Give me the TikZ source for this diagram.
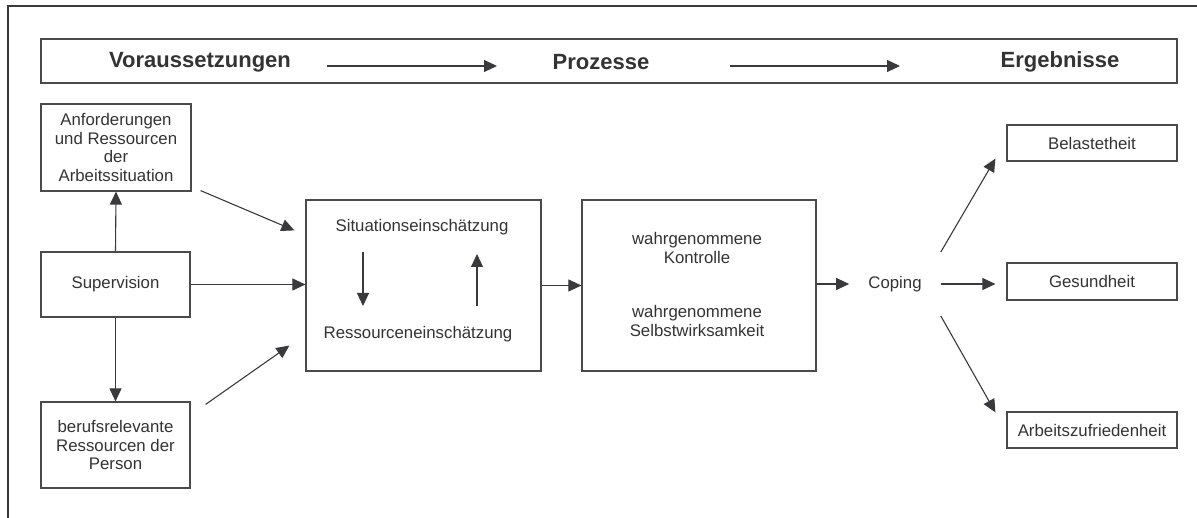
\documentclass[tikz,border=0pt]{standalone}
\usepackage{fontspec}
\setmainfont{Liberation Sans}
\usetikzlibrary{arrows.meta,calc}
\definecolor{linec}{HTML}{3A3A3C}
\definecolor{boxc}{HTML}{4A4A4A}
\definecolor{textc}{HTML}{333333}
\begin{document}
\begin{tikzpicture}[x=1pt,y=-1pt,
  every node/.style={text=textc,font=\fontsize{16.8}{18.8}\selectfont},
  boxnode/.style={draw=boxc,line width=1.2pt,inner sep=0pt,align=center},
  plain/.style={inner sep=0pt,align=center},
  headtext/.style={inner sep=0pt,font=\fontsize{22}{24}\selectfont\bfseries},
  arr/.style={draw=linec,line width=1.1pt,-{Triangle[length=13pt,width=12pt]}}
]
\useasboundingbox (0,0) rectangle (1197,518);
% outer frame
\draw[linec,line width=2.2pt] (1197,6) -- (8,6) -- (8,518);

% header
\node[boxnode,minimum width=1136pt,minimum height=44pt] (head) at (609,61) {};
\node[headtext] (h1) at (200,62) {Voraussetzungen};
\node[headtext] (h2) at (601,62) {Prozesse};
\node[headtext] (h3) at (1060,62) {Ergebnisse};
\coordinate (ha1) at (327,66);
\coordinate (ha2) at (497,66);
\coordinate (hb1) at (730,66);
\coordinate (hb2) at (900,66);
\draw[arr] (ha1) -- (ha2);
\draw[arr] (hb1) -- (hb2);

% left column
\node[boxnode,minimum width=150pt,minimum height=87pt] (A) at (116,147.5)
  {Anforderungen\\und Ressourcen\\der\\Arbeitssituation};
\node[boxnode,minimum width=149pt,minimum height=65pt] (S) at (115.5,284.5) {Supervision};
\node[boxnode,minimum width=149pt,minimum height=86pt] (P) at (115.5,445)
  {berufsrelevante\\Ressourcen der\\Person};

% process boxes
\node[boxnode,minimum width=235pt,minimum height=171pt] (Sit) at (423.5,285.5) {};
\node[plain] (sit1) at (422,227) {Situationseinschätzung};
\node[plain] (sit2) at (418,334) {Ressourceneinschätzung};
\node[boxnode,minimum width=234pt,minimum height=171pt] (K) at (699,285.5) {};
\node[plain] (k1) at (697,248) {wahrgenommene\\Kontrolle};
\node[plain] (k2) at (697,321) {wahrgenommene\\Selbstwirksamkeit};

% coping
\node[inner xsep=19pt,inner ysep=2pt] (C) at (895,284) {Coping};

% outcomes
\node[boxnode,minimum width=170pt,minimum height=36pt] (B) at (1092,143) {Belastetheit};
\node[boxnode,minimum width=170pt,minimum height=37pt] (G) at (1092,281.5) {Gesundheit};
\node[boxnode,minimum width=170pt,minimum height=36pt] (Z) at (1092,430) {Arbeitszufriedenheit};

% connectors left
\draw[arr] (S.north) -- (A.south);
\draw[arr] (S.south) -- (P.north);
\draw[arr] ($(A.south east)+(9,-1)$) -- ($(Sit.north west)+(-11,31)$);
\draw[arr] (S.east) -- (S.east -| Sit.west);
\draw[arr] ($(P.north east)+(15,3)$) -- ($(Sit.south west)+(-16,-26)$);

% inner arrows
\coordinate (d1) at (363,252);
\coordinate (d2) at (363,306);
\coordinate (u1) at (477,306);
\coordinate (u2) at (477,254);
\draw[arr] (d1) -- (d2);
\draw[arr] (u1) -- (u2);

% middle connectors
\draw[arr] (Sit.east) -- (K.west);
\draw[arr] (K.east |- C.west) -- (C.west);

% right connectors
\draw[arr,shorten >=11pt] (C.east) -- (C.east -| G.west);
\draw[arr] ($(C.east)+(0,-32)$) -- ($(B.south west)+(-11,-3)$);
\draw[arr] ($(C.east)+(0,32)$) -- ($(Z.north west)+(-11,1)$);
\end{tikzpicture}
\end{document}
